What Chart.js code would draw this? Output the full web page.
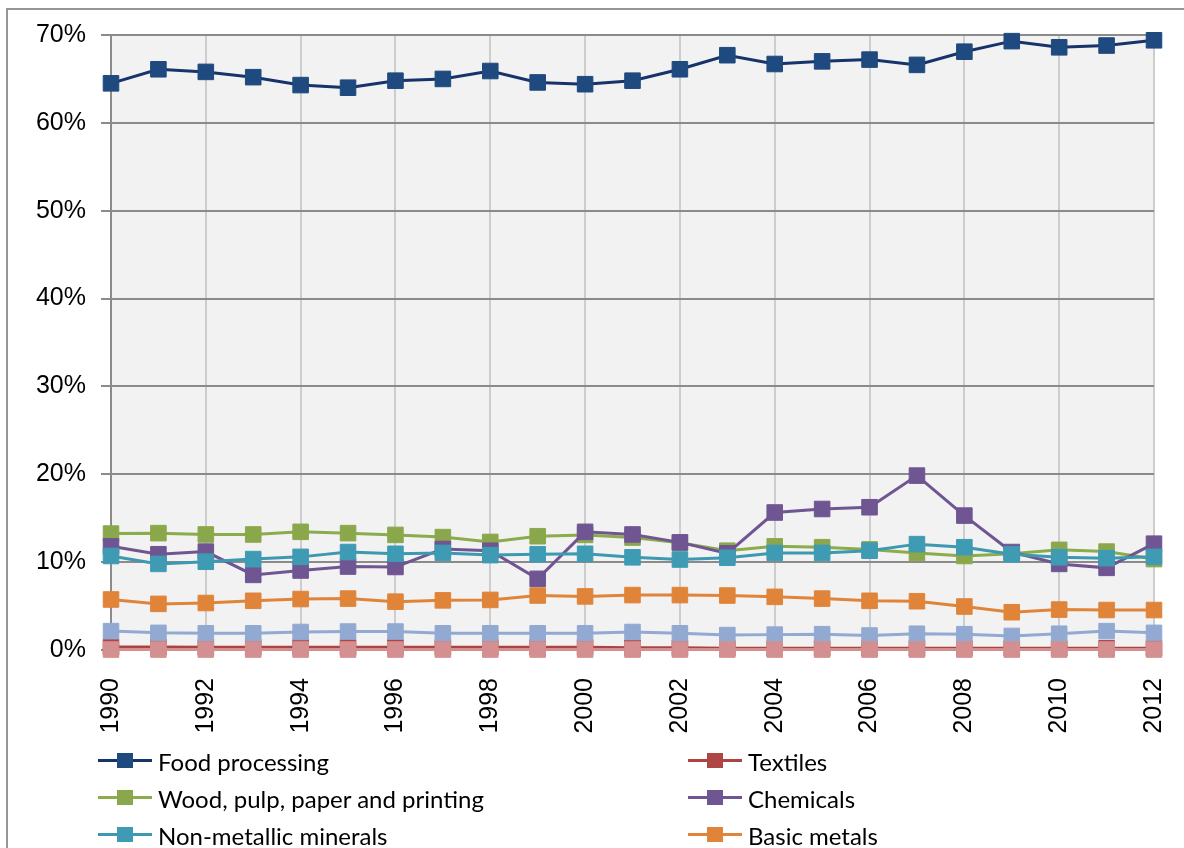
<!DOCTYPE html>
<html>
<head>
<meta charset="utf-8">
<script src="https://cdn.jsdelivr.net/npm/chart.js@4/dist/chart.umd.min.js"></script>
<style>
  html, body { margin: 0; padding: 0; background: #fff; overflow: hidden; }
  #wrap { position: relative; width: 1184px; height: 848px; overflow: hidden; }
  #frame {
    position: absolute; left: 6px; top: 8px; width: 1400px; height: 1000px;
    border-left: 2px solid #959595; border-top: 2px solid #959595;
  }
  #chart { position: absolute; left: 0; top: 0; }
  .legend-item {
    position: absolute; height: 30px; display: flex; align-items: center;
    font-family: "Lato", "Liberation Sans Narrow", sans-serif; font-size: 24px; color: #000;
    white-space: nowrap;
  }
  .legend-symbol { position: relative; width: 54px; height: 30px; margin-right: 6px; }
  .legend-symbol .line { position: absolute; left: 0; right: 0; top: 13px; height: 3px; }
  .legend-symbol .box { position: absolute; left: 19px; top: 7px; width: 16px; height: 15px; }
</style>
</head>
<body>
<div id="wrap">
  <div id="frame"></div>
  <canvas id="chart" width="1184" height="848"></canvas>
  <div id="legend"></div>
</div>
<script>
const years = ["1990", "1991", "1992", "1993", "1994", "1995", "1996", "1997", "1998", "1999", "2000",
  "2001", "2002", "2003", "2004", "2005", "2006", "2007", "2008", "2009", "2010", "2011", "2012"];

const yTicks = [0, 10, 20, 30, 40, 50, 60, 70];

const foodProcessing = [64.5, 66.1, 65.8, 65.2, 64.3, 64.0, 64.8, 65.0, 65.9, 64.6, 64.4,
  64.8, 66.1, 67.7, 66.7, 67.0, 67.2, 66.6, 68.1, 69.3, 68.6, 68.8, 69.4];
const textiles = [0.35, 0.35, 0.3, 0.3, 0.3, 0.3, 0.3, 0.3, 0.3, 0.3, 0.3,
  0.25, 0.25, 0.2, 0.2, 0.2, 0.2, 0.2, 0.2, 0.2, 0.2, 0.2, 0.2];
const woodPaper = [13.25, 13.3, 13.15, 13.15, 13.45, 13.3, 13.1, 12.85, 12.3, 12.95, 13.1,
  12.8, 12.2, 11.3, 11.8, 11.7, 11.45, 11.05, 10.7, 10.95, 11.4, 11.2, 10.35];
const chemicals = [11.8, 10.9, 11.2, 8.55, 9.05, 9.5, 9.45, 11.5, 11.3, 8.1, 13.45,
  13.15, 12.25, 11.0, 15.65, 16.05, 16.25, 19.85, 15.3, 11.15, 9.8, 9.35, 12.1];
const nonMetallic = [10.7, 9.8, 10.05, 10.35, 10.6, 11.15, 10.95, 11.05, 10.8, 10.9, 10.95,
  10.55, 10.3, 10.5, 11.05, 11.05, 11.3, 12.05, 11.7, 10.9, 10.55, 10.45, 10.6];
const basicMetals = [5.75, 5.25, 5.35, 5.6, 5.8, 5.85, 5.5, 5.65, 5.7, 6.2, 6.1,
  6.25, 6.25, 6.2, 6.05, 5.85, 5.6, 5.55, 4.95, 4.3, 4.6, 4.55, 4.55];
const otherA = [2.15, 1.95, 1.9, 1.9, 2.05, 2.1, 2.1, 1.9, 1.9, 1.9, 1.9,
  2.05, 1.9, 1.7, 1.75, 1.8, 1.65, 1.85, 1.8, 1.6, 1.85, 2.15, 1.95];
const otherB = [0.05, 0.05, 0.05, 0.05, 0.05, 0.05, 0.05, 0.05, 0.05, 0.05, 0.05,
  0.05, 0.05, 0.05, 0.05, 0.05, 0.05, 0.05, 0.05, 0.05, 0.05, 0.05, 0.05];

const seriesNames = ["Food processing", "Textiles", "Wood, pulp, paper and printing",
  "Chemicals", "Non-metallic minerals", "Basic metals", "", ""];
const seriesData = [foodProcessing, textiles, woodPaper, chemicals, nonMetallic, basicMetals, otherA, otherB];

// line colour / marker colour per series
const lineColors = ["#17336b", "#ad4341", "#8bab4c", "#6f5592", "#3d98b1", "#e0843a", "#92a9d2", "#d49090"];
const markerColors = ["#1f4a7f", "#b04644", "#8aa84b", "#6f5592", "#3f9bb4", "#e0843a", "#92a9d2", "#d49090"];

const plotBackground = {
  id: "plotBackground",
  beforeDraw(chart) {
    const a = chart.chartArea;
    const ctx = chart.ctx;
    ctx.save();
    ctx.fillStyle = "#f2f2f2";
    ctx.fillRect(a.left, a.top, a.right - a.left, a.bottom - a.top);
    ctx.restore();
  }
};

const datasets = seriesData.map(function (values, i) {
  return {
    label: seriesNames[i],
    data: values,
    borderColor: lineColors[i],
    backgroundColor: markerColors[i],
    borderWidth: 3,
    pointStyle: "rect",
    pointRadius: 11,
    pointBorderWidth: 1,
    pointBorderColor: markerColors[i],
    pointBackgroundColor: markerColors[i],
    tension: 0,
    clip: false,
    order: -i
  };
});

new Chart(document.getElementById("chart"), {
  type: "line",
  data: { labels: years, datasets: datasets },
  options: {
    responsive: false,
    animation: false,
    events: [],
    layout: { padding: { top: 35, right: 30, bottom: 108, left: 0 } },
    plugins: { legend: { display: false }, tooltip: { enabled: false } },
    scales: {
      x: {
        offset: false,
        afterFit: function (scale) {
          scale.height = 90;
          // rotated year labels stay inside the plot width
          scale.paddingLeft = 0;
          scale.paddingRight = 0;
        },
        grid: {
          color: function (c) { return c.index % 2 === 0 ? "#cdcdcd" : "rgba(0,0,0,0)"; },
          lineWidth: 2,
          drawTicks: false
        },
        border: { display: false },
        ticks: {
          autoSkip: false,
          minRotation: 90,
          maxRotation: 90,
          padding: 28,
          color: "#000",
          font: { family: "Liberation Sans", size: 25 },
          callback: function (value, index) { return index % 2 === 0 ? years[index] : ""; }
        }
      },
      y: {
        min: yTicks[0],
        max: yTicks[yTicks.length - 1],
        afterFit: function (scale) { scale.width = 111; },
        afterBuildTicks: function (scale) {
          scale.ticks = yTicks.map(function (v) { return { value: v }; });
        },
        grid: { color: "#8b8b8b", lineWidth: 2, tickLength: 10 },
        border: { display: true, color: "#8b8b8b", width: 2 },
        ticks: {
          padding: 15,
          color: "#000",
          font: { family: "Liberation Sans", size: 25 },
          callback: function (value) { return value + "%"; }
        }
      }
    }
  },
  plugins: [plotBackground]
});

// two-column legend under the plot
const legendRows = [761, 798, 835];
const legendCols = [98, 688];
const legend = document.getElementById("legend");
seriesNames.forEach(function (name, i) {
  if (!name) return;
  const item = document.createElement("div");
  item.className = "legend-item";
  item.style.left = legendCols[i % 2] + "px";
  item.style.top = (legendRows[Math.floor(i / 2)] - 15) + "px";
  item.innerHTML =
    '<span class="legend-symbol"><span class="line" style="background:' + lineColors[i] + '"></span>' +
    '<span class="box" style="background:' + markerColors[i] + '"></span></span>' +
    '<span>' + name + '</span>';
  legend.appendChild(item);
});
</script>
</body>
</html>
